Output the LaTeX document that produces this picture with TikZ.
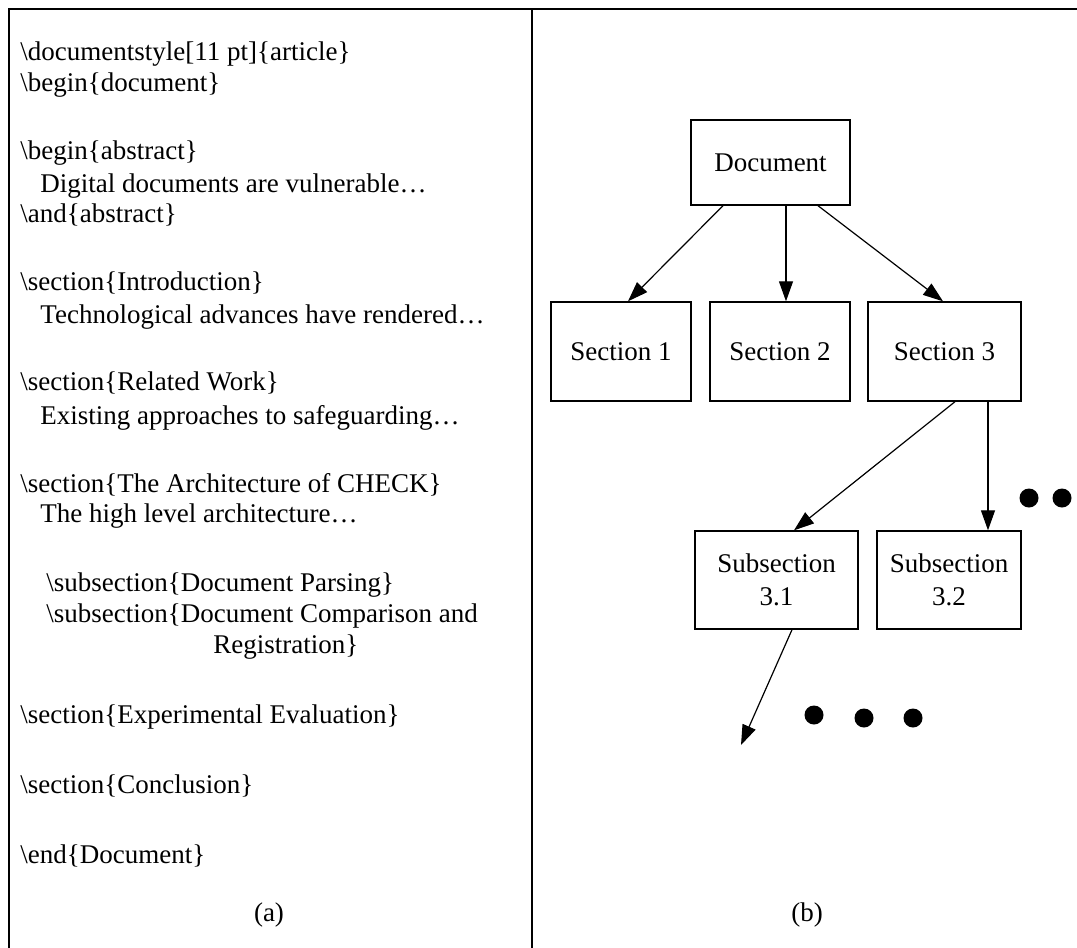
\documentclass[tikz,border=0pt]{standalone}
\usepackage{fontspec}
\setmainfont{Liberation Serif}
\usetikzlibrary{positioning,arrows.meta}
\newcommand{\bsl}{\textbackslash}
\tikzset{
  txt/.style    ={font=\fontsize{13.5}{16.5}\selectfont},
  frame/.style  ={line width=1pt},
  code/.style   ={txt, anchor=base west, inner sep=0pt},
  caption/.style={txt, anchor=base, inner sep=0pt},
  box/.style    ={txt, draw, line width=0.7pt, align=center, inner sep=2pt},
  link/.style   ={-{Triangle[length=10pt,width=7pt]}, line width=0.6pt},
  bullet/.style ={circle, fill, minimum size=9.5pt, inner sep=0pt},
}
\begin{document}
\begin{tikzpicture}[x=0.5pt,y=-0.5pt]
  \useasboundingbox (0,0) rectangle (1077,948);
  % frame
  \draw[frame] (9,948) -- (9,9) -- (1077,9);
  \draw[frame] (532,9) -- (532,948);
  % (a) source listing
  \foreach \yy/\xx/\ln [count=\i] in {
      60/20/{\bsl documentstyle[11 pt]\{article\}},
      91/20/{\bsl begin\{document\}},
      159/20/{\bsl begin\{abstract\}},
      192/40/{Digital documents are vulnerable…},
      222/20/{\bsl and\{abstract\}},
      290/20/{\bsl section\{Introduction\}},
      323/40/{Technological advances have rendered…},
      390/20/{\bsl section\{Related Work\}},
      424/40/{Existing approaches to safeguarding…},
      492/20/{\bsl section\{The Architecture of CHECK\}},
      522/40/{The high level architecture…},
      591/46/{\bsl subsection\{Document Parsing\}},
      622/46/{\bsl subsection\{Document Comparison and},
      653/213/{Registration\}},
      723/20/{\bsl section\{Experimental Evaluation\}},
      793/20/{\bsl section\{Conclusion\}},
      863/20/{\bsl end\{Document\}}}{
    \node[code] (line\i) at (\xx,\yy) {\ln};}
  \node[caption] (capa) at (269,921) {(a)};
  % (b) document tree
  \node[box, minimum width=79.5pt, minimum height=42.5pt] (doc) at (770.5,162.5) {Document};
  \node[box, minimum width=70pt, minimum height=49.5pt] (sec1) at (621,351.5) {Section 1};
  \node[box, minimum width=70pt, minimum height=49.5pt] (sec2) at (780,351.5) {Section 2};
  \node[box, minimum width=76.5pt, minimum height=49.5pt] (sec3) at (944.5,351.5) {Section 3};
  \node[box, minimum width=81.5pt, minimum height=49pt] (sub1) at (776.5,580) {Subsection\\3.1};
  \node[box, minimum width=72pt, minimum height=49pt] (sub2) at (949,580) {Subsection\\3.2};
  \coordinate (more) at (741,745);
  \draw[link] ([xshift=-23.75pt]doc.south) -- ([xshift=3.5pt]sec1.north);
  \draw[link] ([xshift=7.75pt]doc.south) -- ([xshift=3pt]sec2.north);
  \draw[link] ([xshift=23.75pt]doc.south) -- ([xshift=-0.75pt]sec3.north);
  \draw[link] ([xshift=5.25pt]sec3.south) -- ([xshift=8.75pt]sub1.north);
  \draw[link] ([xshift=21.75pt]sec3.south) -- ([xshift=19.5pt]sub2.north);
  \draw[link] ([xshift=7.75pt]sub1.south) -- (more);
  % ellipsis dots
  \foreach \p [count=\j] in {(814,715),(864,718),(913,718),(1029,498),(1062,498)}
    \node[bullet] (dot\j) at \p {};
  \node[caption] (capb) at (807,921) {(b)};
\end{tikzpicture}
\end{document}
